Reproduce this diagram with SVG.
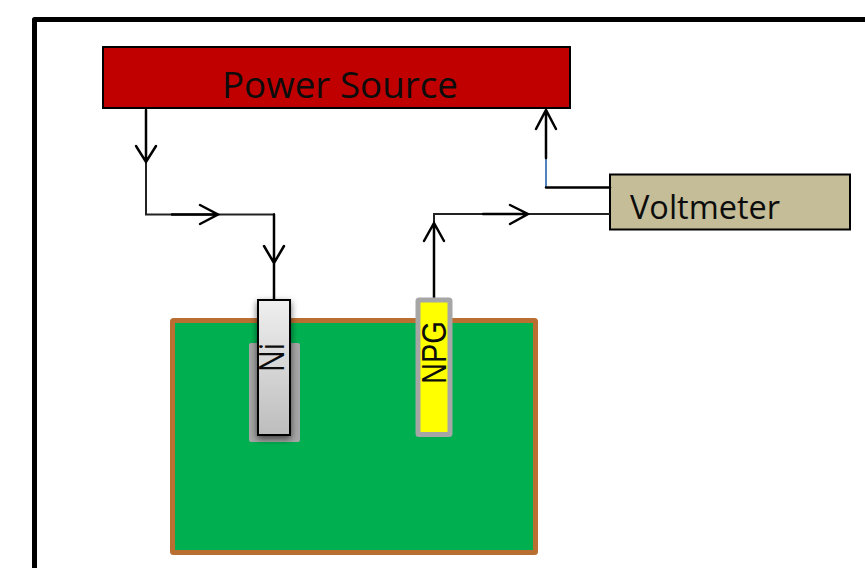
<svg xmlns="http://www.w3.org/2000/svg" width="865" height="568" viewBox="0 0 865 568">
<style>
.lbl{font-family:"Open Sans","Noto Sans",sans-serif;fill:#0c0c0c}
.wire{fill:none;stroke:#222;stroke-width:2;stroke-linejoin:miter}
.thick{fill:none;stroke:#000;stroke-width:2.500;stroke-linecap:round;stroke-linejoin:miter}
.box{stroke:#000;stroke-width:2}
</style>
<defs>
<linearGradient id="niFill" x1="0" y1="0" x2="0" y2="1"><stop offset="0" stop-color="#efefef"/><stop offset="1" stop-color="#bdbdbd"/></linearGradient>
<filter id="shadow" x="-40%" y="-10%" width="180%" height="125%"><feDropShadow dx="0" dy="3" stdDeviation="3.500" flood-color="#000" flood-opacity="0.6"/></filter>
</defs>
<rect width="865" height="568" fill="#fff"/>
<path id="frame" d="M34.500 572V19.500H870" fill="none" stroke="#000" stroke-width="5" stroke-linejoin="round"/>
<g id="power-source">
<rect class="box" x="103" y="47" width="467" height="61" fill="#c00000"/>
<text class="lbl" x="222" y="97.500" font-size="36.500" textLength="236" lengthAdjust="spacingAndGlyphs">Power Source</text>
</g>
<g id="voltmeter">
<rect class="box" x="610" y="174.500" width="240" height="55" fill="#c4bd97"/>
<text class="lbl" x="630" y="219" font-size="32.500" textLength="150" lengthAdjust="spacingAndGlyphs">Voltmeter</text>
</g>
<g id="electrolyte">
<rect x="172.500" y="320.500" width="363" height="232" rx="1" fill="#00b050" stroke="#b96f32" stroke-width="5"/>
</g>
<g id="connectors">
<path class="wire" d="M146 110V214.500H274V300"/>
<path class="wire" d="M434 300V214H610"/>
<path d="M546 158V187.500" fill="none" stroke="#3f74b5" stroke-width="1.800"/>
<path class="thick" d="M146 110V162M136 146L146 162L156 146"/>
<path class="thick" d="M172 214.500H218M200 205L218 214.500L200 224"/>
<path class="thick" d="M274 214.500V263M264 246L274 263L284 246M274 263V299"/>
<path class="thick" d="M546 158V110M536 129L546 110L556 129"/>
<path class="thick" d="M546 187.500H610"/>
<path class="thick" d="M483 214H528M510 205L528 214L510 224"/>
<path class="thick" d="M434 298V270M434 270V223M424 241L434 223L444 241"/>
</g>
<g id="ni-electrode">
<rect x="249" y="343" width="51" height="99" rx="2" fill="#a6a6a6"/>
<rect class="box" x="258" y="300" width="32" height="135" fill="url(#niFill)" filter="url(#shadow)"/>
<text class="lbl" transform="translate(284 372) rotate(-90) scale(1 1.1)" font-size="32" textLength="29" lengthAdjust="spacingAndGlyphs">Ni</text>
</g>
<g id="npg-electrode">
<rect x="418" y="300" width="32" height="134.500" rx="1" fill="#ffff00" stroke="#a6a6a6" stroke-width="5"/>
<text transform="translate(446 384) rotate(-90) scale(1 1.22)" font-family="'Liberation Sans',Arial,sans-serif" font-size="29" fill="#0c0c0c">NPG</text>
</g>
</svg>
